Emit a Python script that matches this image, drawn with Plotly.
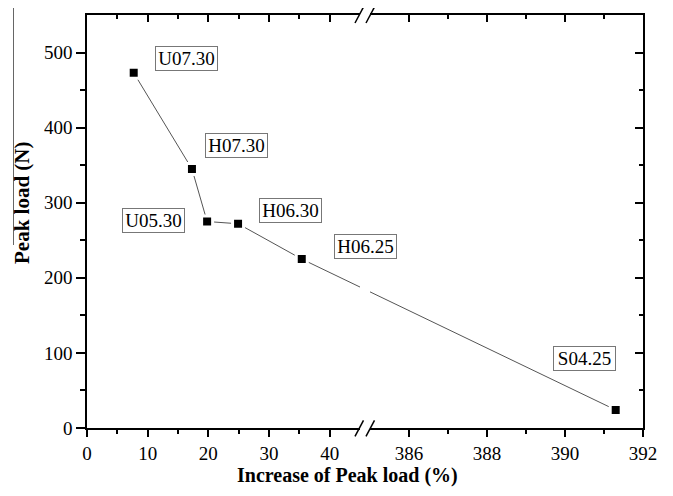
import plotly.graph_objects as go

# ---- data ----
labels = ["U07.30", "H07.30", "U05.30", "H06.30", "H06.25", "S04.25"]
increase = [7.7, 17.3, 19.8, 24.9, 35.4, 391.3]
peak = [473, 345, 275, 272, 225, 24]
left_ticks = [0, 10, 20, 30, 40]
right_ticks = [386, 388, 390, 392]
y_ticks = [0, 100, 200, 300, 400, 500]

# label box offsets (pixels) relative to each point
label_dx = [53, 45, -54, 52, 64, -31]
label_dy = [14, 23, 1, 13, 13, 51]

# ---- layout geometry (page has an 8px body margin) ----
OFF = 8
W, H = 673 - OFF, 496 - OFF
ML, MR, MT, MB = 87 - OFF, 30, 15 - OFF, 68
PW, PH = W - ML - MR, H - MT - MB
L_RANGE = [0, 45]
R_RANGE = [385, 392]
D_LEFT = [0, 273 / PW]
D_RIGHT = [283 / PW, 1]
Y_RANGE = [0, 550]

def frac_left(x):
    return D_LEFT[0] + (x - L_RANGE[0]) / (L_RANGE[1] - L_RANGE[0]) * (D_LEFT[1] - D_LEFT[0])

def frac_right(x):
    return D_RIGHT[0] + (x - R_RANGE[0]) / (R_RANGE[1] - R_RANGE[0]) * (D_RIGHT[1] - D_RIGHT[0])

def left_from_frac(f):
    return L_RANGE[0] + (f - D_LEFT[0]) / (D_LEFT[1] - D_LEFT[0]) * (L_RANGE[1] - L_RANGE[0])

def right_from_frac(f):
    return R_RANGE[0] + (f - D_RIGHT[0]) / (D_RIGHT[1] - D_RIGHT[0]) * (R_RANGE[1] - R_RANGE[0])

# page pixel -> paper fraction
def px(xp):
    return (xp - OFF - ML) / PW

def py(yp):
    return (H - MB - (yp - OFF)) / PH

fr = [frac_left(x) if x <= L_RANGE[1] else frac_right(x) for x in increase]
x_on_left = [left_from_frac(f) for f in fr]
x_on_right = [right_from_frac(f) for f in fr]

FONT = "'Times New Roman', 'Liberation Serif', serif"
LINE_COLOR = "#555555"

fig = go.Figure()

fig.add_trace(go.Scatter(x=x_on_left, y=peak, mode="lines",
                         line=dict(color=LINE_COLOR, width=1),
                         xaxis="x", yaxis="y", hoverinfo="skip", showlegend=False))
fig.add_trace(go.Scatter(x=x_on_right, y=peak, mode="lines",
                         line=dict(color=LINE_COLOR, width=1),
                         xaxis="x2", yaxis="y", hoverinfo="skip", showlegend=False))

marker = dict(symbol="square", size=11, color="black", line=dict(color="white", width=3))
li = [i for i, x in enumerate(increase) if x <= L_RANGE[1]]
ri = [i for i, x in enumerate(increase) if x >= R_RANGE[0]]
fig.add_trace(go.Scatter(x=[increase[i] for i in li], y=[peak[i] for i in li],
                         mode="markers", marker=marker, xaxis="x", yaxis="y",
                         showlegend=False, cliponaxis=False))
fig.add_trace(go.Scatter(x=[increase[i] for i in ri], y=[peak[i] for i in ri],
                         mode="markers", marker=marker, xaxis="x2", yaxis="y",
                         showlegend=False, cliponaxis=False))

fig.add_trace(go.Scatter(x=[None], y=[None], xaxis="x3", yaxis="y", showlegend=False))
fig.add_trace(go.Scatter(x=[None], y=[None], xaxis="x4", yaxis="y", showlegend=False))
fig.add_trace(go.Scatter(x=[None], y=[None], xaxis="x2", yaxis="y2", showlegend=False))

tickfont = dict(family=FONT, size=19, color="black")
axis_line = dict(showline=True, linecolor="black", linewidth=1.5, showgrid=False, zeroline=False)

fig.update_layout(
    width=W, height=H,
    margin=dict(l=ML, r=MR, t=MT, b=MB),
    paper_bgcolor="white", plot_bgcolor="white",
    showlegend=False,
    font=dict(family=FONT, color="black"),
    xaxis=dict(domain=D_LEFT, range=L_RANGE, anchor="y",
               tickvals=left_ticks, ticks="outside", ticklen=7, tickwidth=1.5, tickcolor="black",
               minor=dict(tickvals=[5, 15, 25, 35], ticks="outside", ticklen=4, tickwidth=1.5, tickcolor="black"),
               tickfont=tickfont, **axis_line),
    xaxis2=dict(domain=D_RIGHT, range=R_RANGE, anchor="y",
                tickvals=right_ticks, ticks="outside", ticklen=7, tickwidth=1.5, tickcolor="black",
                minor=dict(tickvals=[387, 389, 391], ticks="outside", ticklen=4, tickwidth=1.5, tickcolor="black"),
                tickfont=tickfont, **axis_line),
    xaxis3=dict(overlaying="x", side="top", range=L_RANGE, anchor="y",
                tickvals=left_ticks, ticks="inside", ticklen=7, tickwidth=1.5, tickcolor="black",
                minor=dict(tickvals=[5, 15, 25, 35], ticks="inside", ticklen=4, tickwidth=1.5, tickcolor="black"),
                showticklabels=False, **axis_line),
    xaxis4=dict(overlaying="x2", side="top", range=R_RANGE, anchor="y",
                tickvals=right_ticks, ticks="inside", ticklen=7, tickwidth=1.5, tickcolor="black",
                minor=dict(tickvals=[387, 389, 391], ticks="inside", ticklen=4, tickwidth=1.5, tickcolor="black"),
                showticklabels=False, **axis_line),
    yaxis=dict(range=Y_RANGE, anchor="x", tickvals=y_ticks,
               ticks="outside", ticklen=9, tickwidth=1.5, tickcolor="black",
               minor=dict(tickvals=[50, 150, 250, 350, 450], ticks="outside", ticklen=5, tickwidth=1.5, tickcolor="black"),
               tickfont=tickfont, **axis_line),
    yaxis2=dict(overlaying="y", side="right", anchor="x2", range=Y_RANGE, tickvals=y_ticks,
                ticks="inside", ticklen=8, tickwidth=1.5, tickcolor="black",
                minor=dict(tickvals=[50, 150, 250, 350, 450], ticks="inside", ticklen=4, tickwidth=1.5, tickcolor="black"),
                showticklabels=False, **axis_line),
)

for i, lab in enumerate(labels):
    xr = "x" if increase[i] <= L_RANGE[1] else "x2"
    fig.add_annotation(x=increase[i], y=peak[i], xref=xr, yref="y", text=lab,
                       showarrow=False, xshift=label_dx[i], yshift=label_dy[i],
                       xanchor="center", yanchor="middle",
                       font=dict(family=FONT, size=19, color="black"),
                       bordercolor="#777777", borderwidth=1, borderpad=2,
                       bgcolor="white", width=57, height=19)

fig.add_annotation(x=px(347), y=py(475), xref="paper", yref="paper",
                   xanchor="center", yanchor="middle",
                   text="<b>Increase of Peak load (%)</b>", showarrow=False,
                   font=dict(family=FONT, size=20, color="black"))
fig.add_annotation(x=px(22), y=py(203), xref="paper", yref="paper",
                   xanchor="center", yanchor="middle",
                   text="<b>Peak load (N)</b>", showarrow=False, textangle=-90,
                   font=dict(family=FONT, size=21, color="black"))

for yb in (428.3, 15):
    for x0 in (355, 366):
        fig.add_shape(type="line", xref="paper", yref="paper",
                      x0=px(x0), y0=py(yb + 8), x1=px(x0 + 8.5), y1=py(yb - 8),
                      line=dict(color="black", width=1.5))

fig.add_shape(type="line", xref="paper", yref="paper",
              x0=px(13.5), y0=py(5), x1=px(13.5), y1=py(245),
              line=dict(color="#666666", width=1))

fig.write_html("out.html")
